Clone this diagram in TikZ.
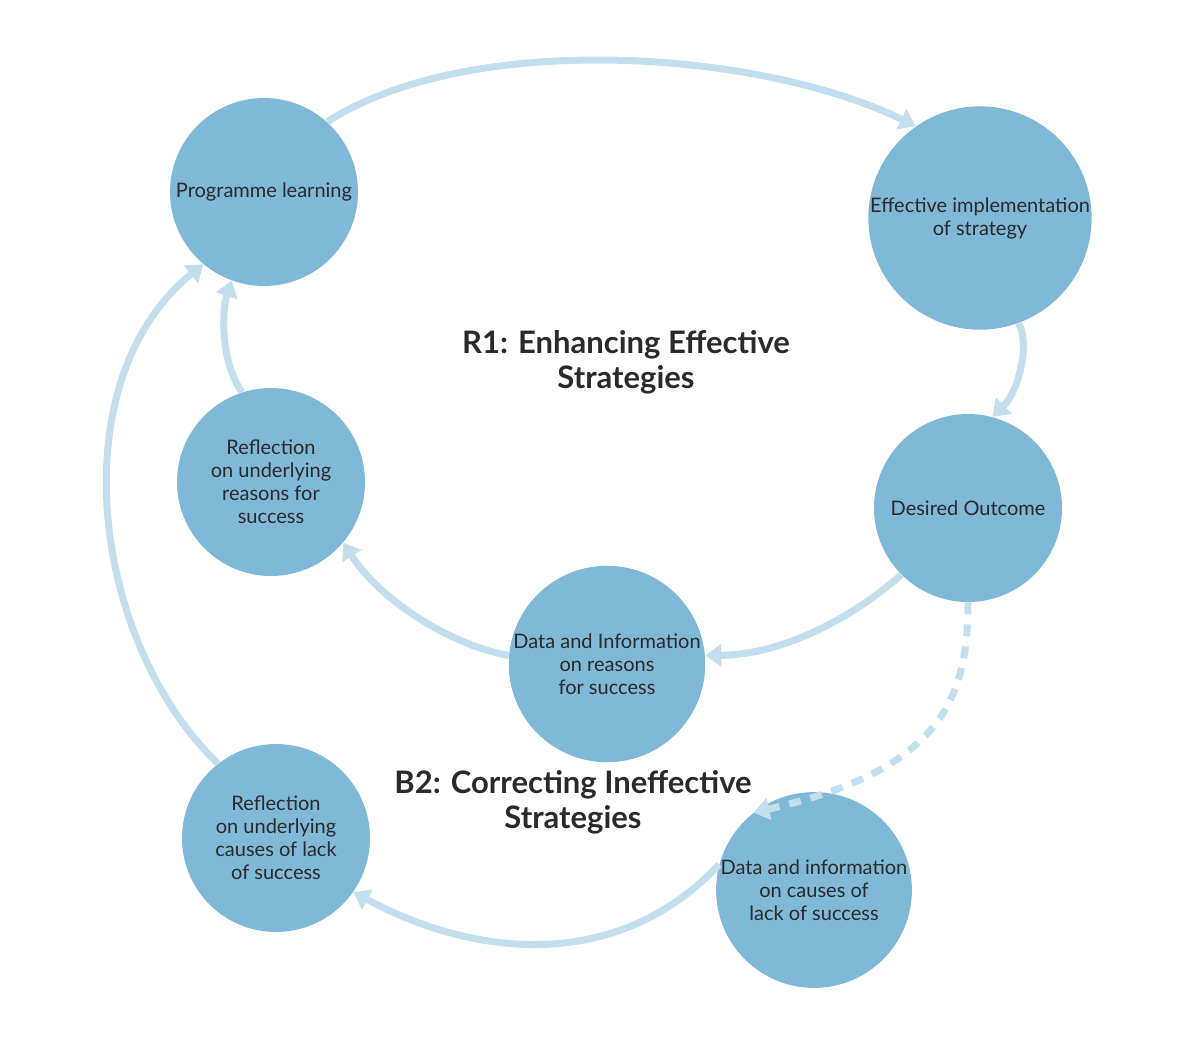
\documentclass[tikz,border=0pt]{standalone}
\usepackage{fontspec}
\setmainfont{Lato}
\usetikzlibrary{arrows.meta}
\definecolor{circ}{HTML}{80B8D8}
\definecolor{arr}{HTML}{C3DEEC}
\definecolor{txt}{HTML}{2A2A2A}
\begin{document}
\begin{tikzpicture}[x=0.5pt,y=-0.5pt,
  blob/.style={circle,fill=circ,minimum size=94pt,inner sep=0pt,align=center,font=\fontsize{10}{11.5}\selectfont,text=txt},
  con/.style={draw=arr,line width=3.5pt,-{Triangle[length=8pt,width=11pt]}},
  title/.style={align=center,font=\bfseries\fontsize{15.5}{17.5}\selectfont,text=txt}]
\useasboundingbox (0,0) rectangle (1200,1040);
\node[blob] (A) at (264,192) {Programme learning};
\node[blob] (B) at (980,218) {Effective implementation\\of strategy};
\node[blob] (C) at (968,508) {Desired Outcome};
\node[blob] (D) at (607,664) {Data and Information\\on reasons\\for success};
\node[blob] (E) at (271,482) {Reflection\\on underlying\\reasons for\\success};
\node[blob] (F) at (276,838) {Reflection\\on underlying\\causes of lack\\of success};
\node[blob] (G) at (814,890) {Data and information\\on causes of\\lack of success};
\node[title] (t1) at (626,362) {R1: Enhancing Effective\\Strategies};
\node[title] (t2) at (573,802) {B2: Correcting Ineffective\\Strategies};
\draw[con] (A.48) .. controls (470,30) and (760,50) .. (B.125);
\draw[con] (B.-70) .. controls (1030,340) and (1020,390) .. (C.75);
\draw[con] (C.-135) .. controls (850,620) and (780,655) .. (D.5);
\draw[con] (D.175) .. controls (450,645) and (380,600) .. (E.-40);
\draw[con] (E.108) .. controls (220,360) and (222,310) .. (A.-110);
\draw[con,dash pattern=on 6pt off 5pt] (C.-90) .. controls (968,700) and (940,770) .. (G.128);
\draw[con] (G.165) .. controls (620,970) and (480,960) .. (F.-35);
\draw[con] (F.128) .. controls (90,640) and (60,380) .. (A.-130);
\end{tikzpicture}
\end{document}
